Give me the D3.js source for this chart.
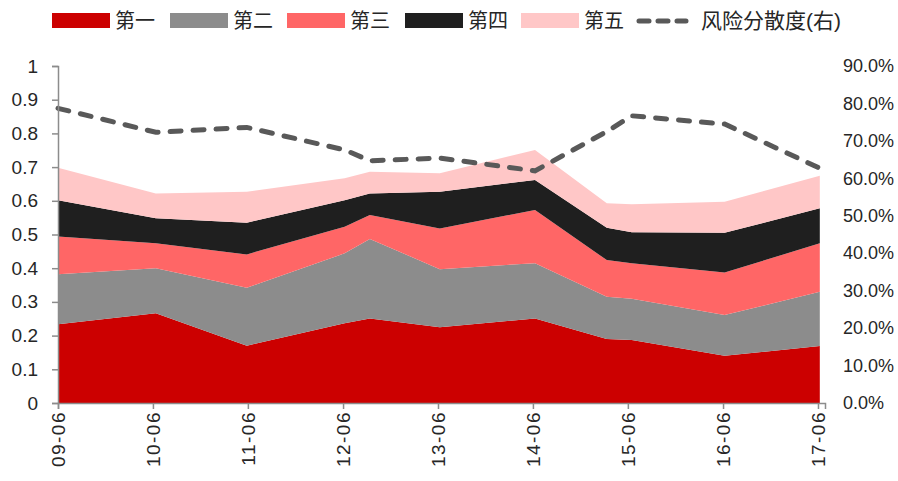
<!DOCTYPE html>
<html>
<head>
<meta charset="utf-8">
<script src="https://cdnjs.cloudflare.com/ajax/libs/d3/7.8.5/d3.min.js"></script>
<style>
  body { margin: 0; background: #fff; }
  text { font-family: "Liberation Sans", "Noto Sans CJK SC", sans-serif; fill: #262626; }
</style>
</head>
<body>
<svg id="chart" width="898" height="481"></svg>
<script>
// observation dates
const dates = ["2009-06-01", "2010-06-12", "2011-05-28", "2012-06-07", "2012-09-12",
  "2013-06-08", "2014-06-09", "2015-03-12", "2015-06-16", "2016-06-07", "2017-06-08"];

// stacked layers (share of each group)
const first  = [0.234, 0.266, 0.170, 0.237, 0.251, 0.225, 0.251, 0.190, 0.187, 0.140, 0.169];
const second = [0.148, 0.134, 0.172, 0.207, 0.236, 0.172, 0.164, 0.125, 0.122, 0.121, 0.161];
const third  = [0.112, 0.074, 0.099, 0.079, 0.071, 0.121, 0.158, 0.109, 0.106, 0.126, 0.144];
const fourth = [0.108, 0.074, 0.094, 0.079, 0.064, 0.109, 0.089, 0.096, 0.092, 0.118, 0.104];
const fifth  = [0.096, 0.074, 0.092, 0.065, 0.064, 0.055, 0.089, 0.073, 0.083, 0.092, 0.096];

// risk dispersion, right axis
const dispersion = [0.787, 0.723, 0.736, 0.676, 0.647, 0.654, 0.620, 0.725, 0.767, 0.745, 0.627];

const seriesNames = ["第一", "第二", "第三", "第四", "第五"];
const lineName = "风险分散度(右)";
const xTickLabels = ["09-06", "10-06", "11-06", "12-06", "13-06", "14-06", "15-06", "16-06", "17-06"];
const colors = ["#CC0000", "#8C8C8C", "#FF6666", "#1F1F1F", "#FFC7C7"];

const parse = d3.timeParse("%Y-%m-%d");
const rows = dates.map((d, i) => ({
  date: parse(d),
  "第一": first[i], "第二": second[i], "第三": third[i], "第四": fourth[i], "第五": fifth[i],
  disp: dispersion[i]
}));

const svg = d3.select("#chart");
const mLeft = 58, mRight = 825, mTop = 66, mBottom = 403;

const x = d3.scaleTime()
  .domain([parse("2009-06-01"), parse("2017-06-28")])
  .range([mLeft, mRight]);
const y = d3.scaleLinear().domain([0, 1]).range([mBottom, mTop]);
const y2 = d3.scaleLinear().domain([0, 0.9]).range([mBottom, mTop]);

const stacked = d3.stack().keys(seriesNames)(rows);

const area = d3.area()
  .x(d => x(d.data.date))
  .y0(d => y(d[0]))
  .y1(d => y(d[1]));

svg.append("g").selectAll("path")
  .data(stacked)
  .enter()
  .append("path")
  .attr("d", area)
  .attr("fill", (d, i) => colors[i]);

// dashed dispersion line
const line = d3.line()
  .x(d => x(d.date))
  .y(d => y2(d.disp));

svg.append("path")
  .datum(rows)
  .attr("d", line)
  .attr("fill", "none")
  .attr("stroke", "#595959")
  .attr("stroke-width", 5)
  .attr("stroke-linecap", "round")
  .attr("stroke-dasharray", "11,12");

// left axis
const yAxis = svg.append("g")
  .attr("transform", "translate(" + mLeft + ",0)")
  .call(d3.axisLeft(y)
    .tickValues(d3.range(0, 11).map(d => d / 10))
    .tickSize(6)
    .tickPadding(14)
    .tickFormat(d => d === 0 ? "0" : d === 1 ? "1" : d3.format(".1f")(d)));
yAxis.selectAll("text").style("font-size", "19px");

// right axis (labels only)
const y2Axis = svg.append("g")
  .attr("transform", "translate(" + (mRight + 18) + ",0)")
  .call(d3.axisRight(y2)
    .tickValues(d3.range(0, 10).map(d => d / 10))
    .tickSize(0)
    .tickPadding(0)
    .tickFormat(d3.format(".1%")));
y2Axis.select(".domain").remove();
y2Axis.selectAll("text").style("font-size", "18px");

// bottom axis
const xTicks = xTickLabels.map(s => parse("20" + s.slice(0, 2) + "-06-01"));
const xAxis = svg.append("g")
  .attr("transform", "translate(0," + mBottom + ")")
  .call(d3.axisBottom(x)
    .tickValues(xTicks)
    .tickSizeOuter(0)
    .tickSize(6)
    .tickFormat((d, i) => xTickLabels[i]));
xAxis.selectAll("text")
  .style("font-size", "19px")
  .style("letter-spacing", "1.5px")
  .attr("text-anchor", "end")
  .attr("dy", "0.35em")
  .attr("transform", "rotate(-90)")
  .attr("x", -8)
  .attr("y", 0);

svg.selectAll(".domain, .tick line").attr("stroke", "#8C8C8C").attr("stroke-width", 1.5);

// legend
const legendItems = [
  { name: seriesNames[0], x: 52, color: colors[0] },
  { name: seriesNames[1], x: 170, color: colors[1] },
  { name: seriesNames[2], x: 287, color: colors[2] },
  { name: seriesNames[3], x: 405, color: colors[3] },
  { name: seriesNames[4], x: 521, color: colors[4] }
];
const legend = svg.append("g");
legendItems.forEach(it => {
  legend.append("rect")
    .attr("x", it.x).attr("y", 13)
    .attr("width", 58).attr("height", 15)
    .attr("fill", it.color);
  legend.append("text")
    .attr("x", it.x + 63).attr("y", 21)
    .attr("dy", "0.35em")
    .style("font-size", "20px")
    .text(it.name);
});
legend.append("line")
  .attr("x1", 639).attr("x2", 686)
  .attr("y1", 21).attr("y2", 21)
  .attr("stroke", "#595959")
  .attr("stroke-width", 5)
  .attr("stroke-linecap", "round")
  .attr("stroke-dasharray", "10,9");
legend.append("text")
  .attr("x", 701).attr("y", 21)
  .attr("dy", "0.35em")
  .style("font-size", "21px")
  .text(lineName);
</script>
</body>
</html>
